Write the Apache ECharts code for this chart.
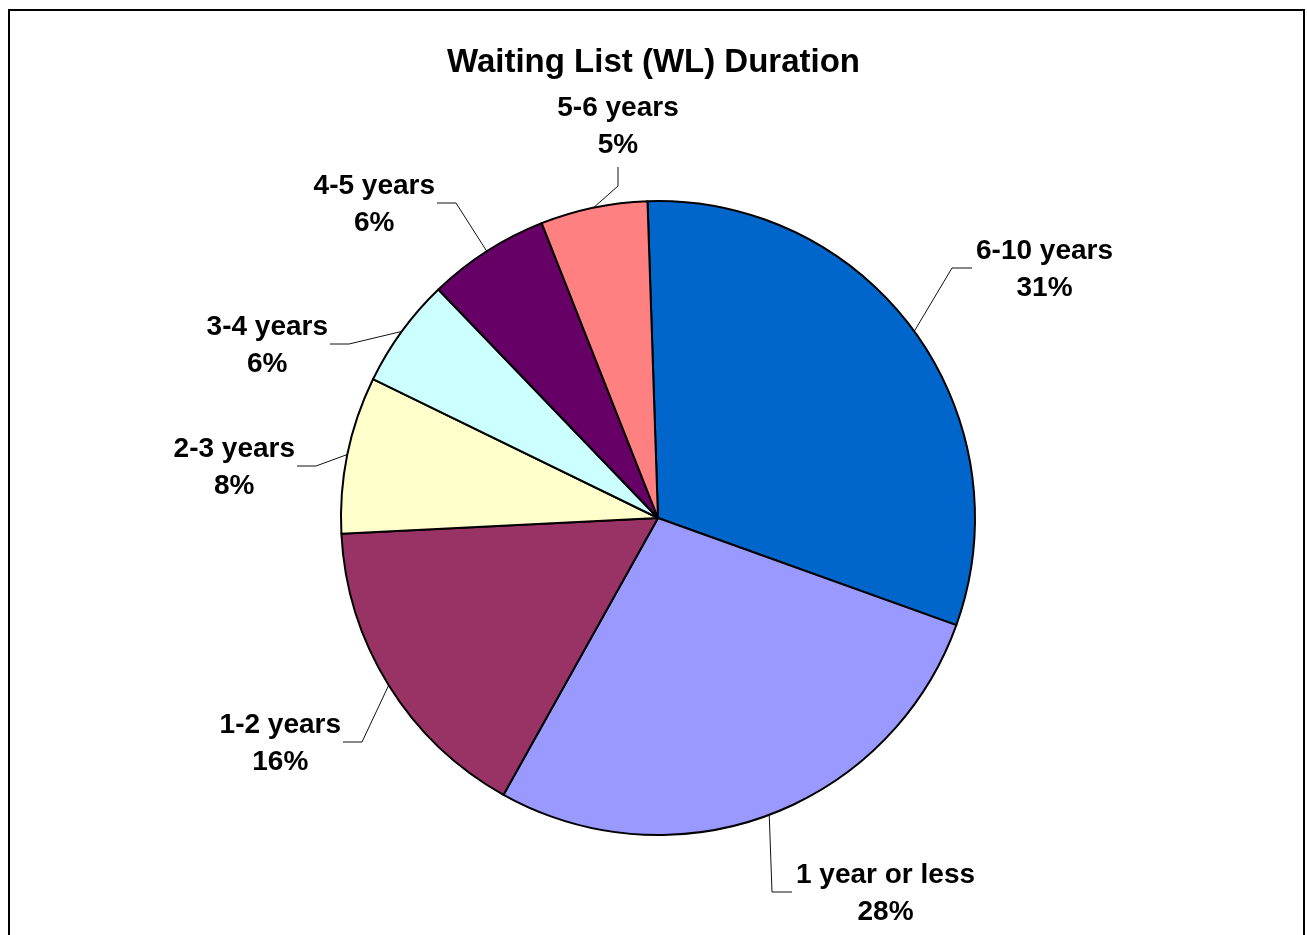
<!DOCTYPE html>
<html>
<head>
<meta charset="utf-8">
<script src="https://cdn.jsdelivr.net/npm/echarts@6/dist/echarts.min.js"></script>
<style>
  html, body { margin: 0; padding: 0; background: #fff; }
  #chart { width: 1307px; height: 935px; }
</style>
</head>
<body>
<div id="chart"></div>
<script>
// ---- data ----
const categories = ['6-10 years', '1 year or less', '1-2 years', '2-3 years', '3-4 years', '4-5 years', '5-6 years'];
const shares = [31.0, 27.6, 16.1, 8.0, 5.6, 6.2, 5.45];
const colors = ['#0066CC', '#9999FF', '#993366', '#FFFFCC', '#CCFFFF', '#660066', '#FF8080'];
const chartTitle = 'Waiting List (WL) Duration';

// ---- label placement (layout only: where each leader line ends, and on which side the text sits) ----
const labelEnds = [
  [972, 268, 'left'],
  [792, 892, 'left'],
  [343, 742, 'right'],
  [297, 466, 'right'],
  [330, 344, 'right'],
  [437, 203, 'right'],
  [618, 167, 'top']
];

const FONT = '"Liberation Sans", Arial, Helvetica, sans-serif';
const LABEL_SIZE = 28;
const LABEL_LH = 37;

const measureCtx = document.createElement('canvas').getContext('2d');
measureCtx.font = 'bold ' + LABEL_SIZE + 'px ' + FONT;
function labelText(name, pct) { return name + '\n' + pct + '%'; }
function textWidth(str) {
  return Math.max.apply(null, str.split('\n').map(function (s) { return measureCtx.measureText(s).width; }));
}
const total = shares.reduce(function (a, b) { return a + b; }, 0);

const chart = echarts.init(document.getElementById('chart'), null, { renderer: 'canvas' });

const option = {
  backgroundColor: '#ffffff',
  animation: false,
  title: {
    text: chartTitle,
    left: 'center',
    top: 41,
    textStyle: { fontFamily: FONT, fontSize: 33, fontWeight: 'bold', color: '#000' }
  },
  graphic: [{
    type: 'rect',
    shape: { x: 9, y: 10, width: 1295, height: 1000 },
    style: { fill: 'none', stroke: '#000', lineWidth: 2 },
    silent: true
  }],
  series: [{
    type: 'pie',
    center: [658, 518],
    radius: 317,
    startAngle: 91.9,
    clockwise: true,
    avoidLabelOverlap: false,
    itemStyle: { borderColor: '#000', borderWidth: 2 },
    label: {
      show: true,
      position: 'outside',
      fontFamily: FONT,
      fontSize: LABEL_SIZE,
      fontWeight: 'bold',
      color: '#000',
      lineHeight: LABEL_LH,
      align: 'center',
      formatter: function (p) { return labelText(p.name, Math.round(p.value / total * 100)); }
    },
    labelLine: {
      show: true,
      length: 20,
      length2: 20,
      lineStyle: { color: '#111', width: 1 }
    },
    labelLayout: function (p) {
      const i = p.dataIndex;
      const e = labelEnds[i];
      const ex = e[0], ey = e[1], side = e[2];
      const w = textWidth(labelText(categories[i], Math.round(shares[i] / total * 100)));
      const h = LABEL_LH * 2;
      const p0 = p.labelLinePoints ? p.labelLinePoints[0] : [ex, ey];
      let bend, x, y;
      if (side === 'left') {
        bend = [ex - 20, ey]; x = ex + 4 + w / 2; y = ey + 2;
      } else if (side === 'right') {
        bend = [ex + 19, ey]; x = ex - 2 - w / 2; y = ey + 2;
      } else {
        bend = [ex, ey + 19]; x = ex; y = ey - 3 - h / 2;
      }
      return {
        x: x, y: y, align: 'center', verticalAlign: 'middle',
        labelLinePoints: [p0, bend, [ex, ey]]
      };
    },
    data: categories.map(function (c, i) {
      return { name: c, value: shares[i], itemStyle: { color: colors[i] } };
    })
  }]
};
chart.setOption(option);
</script>
</body>
</html>
